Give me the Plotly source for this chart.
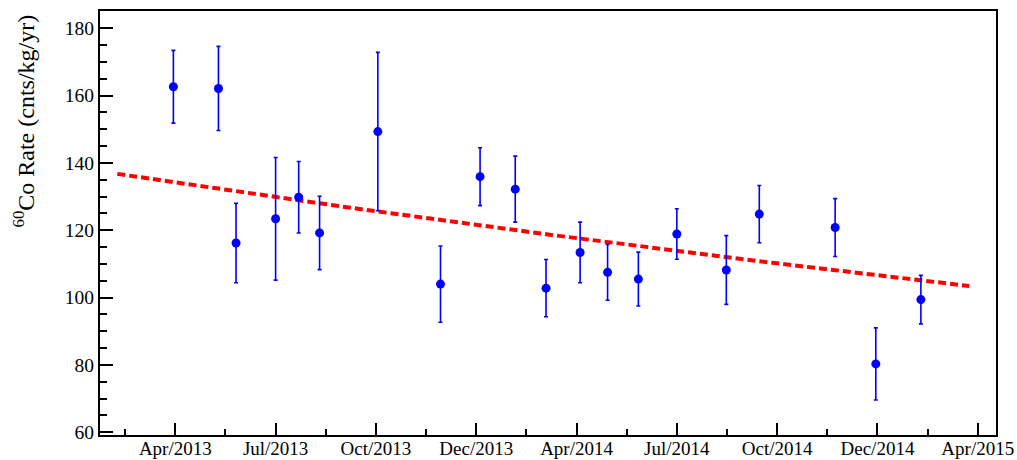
import pandas as pd
import numpy as np
import plotly.graph_objects as go

# Measured 60Co rate per run (cnts/kg/yr) with symmetric 1-sigma errors
run_dates = [
    "2013-03-31", "2013-05-11", "2013-05-27", "2013-07-02", "2013-07-23",
    "2013-08-11", "2013-10-03", "2013-11-29", "2014-01-04", "2014-02-05",
    "2014-03-05", "2014-04-05", "2014-04-30", "2014-05-28", "2014-07-02",
    "2014-08-16", "2014-09-15", "2014-11-23", "2014-12-30", "2015-02-09",
]
co60_rate = [
    162.6, 162.1, 116.2, 123.4, 129.8,
    119.2, 149.3, 104.0, 135.9, 132.2,
    102.8, 113.4, 107.5, 105.5, 118.9,
    108.2, 124.8, 120.8, 80.3, 99.4,
]
co60_err = [
    10.8, 12.5, 11.8, 18.2, 10.6,
    10.9, 23.5, 11.3, 8.6, 9.8,
    8.5, 9.0, 8.3, 8.0, 7.5,
    10.2, 8.5, 8.6, 10.7, 7.2,
]

# Decay fit: rate at the reference date, fixed 60Co half-life
fit_ref_date = "2013-04-01"
fit_ref_rate = 134.2
half_life_days = 1925.3
fit_start = "2013-02-08"
fit_end = "2015-03-25"

# Time axis: labels every quarter-year starting at tick_start
tick_labels = ["Apr/2013", "Jul/2013", "Oct/2013", "Dec/2013", "Apr/2014",
               "Jul/2014", "Oct/2014", "Dec/2014", "Apr/2015"]
tick_start = pd.Timestamp("2013-04-01 18:00")
tick_step = pd.Timedelta(days=91.25)
x_range = ["2013-01-23 06:00", "2015-04-18 08:00"]
y_range = [59.2, 185.1]

major_ticks = [tick_start + k * tick_step for k in range(len(tick_labels))]
minor_ticks = [tick_start + (k - 0.5) * tick_step for k in range(len(tick_labels) + 1)]

# Evaluate the exponential decay curve over the fit window
fit_t = pd.date_range(fit_start, fit_end, periods=200)
dt_days = (fit_t - pd.Timestamp(fit_ref_date)) / pd.Timedelta(days=1)
fit_y = fit_ref_rate * np.power(2.0, -np.asarray(dt_days) / half_life_days)

font_family = "Liberation Serif, Times New Roman, serif"

fig = go.Figure()
fig.add_trace(go.Scatter(
    x=fit_t, y=fit_y, mode="lines",
    line=dict(color="#ff0000", width=4, dash="8px,4px"),
    hoverinfo="skip", showlegend=False,
))
fig.add_trace(go.Scatter(
    x=pd.to_datetime(run_dates), y=co60_rate, mode="markers",
    marker=dict(color="#0000ff", size=9, symbol="circle"),
    error_y=dict(type="data", array=co60_err, visible=True,
                 color="#0000ff", thickness=1.6, width=2),
    showlegend=False,
))

fig.update_layout(
    width=1017, height=460,
    margin=dict(l=100, r=21, t=11, b=25),
    paper_bgcolor="white", plot_bgcolor="white",
    font=dict(family=font_family, size=19, color="black"),
    showlegend=False,
)
fig.update_xaxes(
    type="date", range=x_range, automargin=False,
    tickmode="array", tickvals=major_ticks, ticktext=tick_labels,
    ticks="inside", ticklen=12, tickwidth=1.5, tickcolor="black",
    minor=dict(tickmode="array", tickvals=minor_ticks, ticks="inside",
               ticklen=6, tickwidth=1.5, tickcolor="black", showgrid=False),
    showline=True, linewidth=2, linecolor="black", mirror=True,
    showgrid=False, zeroline=False, ticklabelstandoff=-5,
    tickfont=dict(family=font_family, size=19, color="black"),
)
fig.update_yaxes(
    range=y_range, automargin=False,
    tick0=60, dtick=20,
    ticks="inside", ticklen=13, tickwidth=1.5, tickcolor="black",
    minor=dict(dtick=5, tick0=60, ticks="inside", ticklen=6.5, tickwidth=1.5,
               tickcolor="black", showgrid=False),
    showline=True, linewidth=2, linecolor="black", mirror=True,
    showgrid=False, zeroline=False,
    tickfont=dict(family=font_family, size=19.5, color="black"),
)

# Y-axis title aligned to the top end of the axis
fig.add_annotation(
    text="<sup>60</sup>Co Rate (cnts/kg/yr)",
    xref="paper", yref="paper",
    x=(23 - 100) / 896, y=(435 - 13) / 424,
    xanchor="center", yanchor="top",
    textangle=-90, showarrow=False,
    font=dict(family=font_family, size=24, color="black"),
)

fig.write_html("out.html")
